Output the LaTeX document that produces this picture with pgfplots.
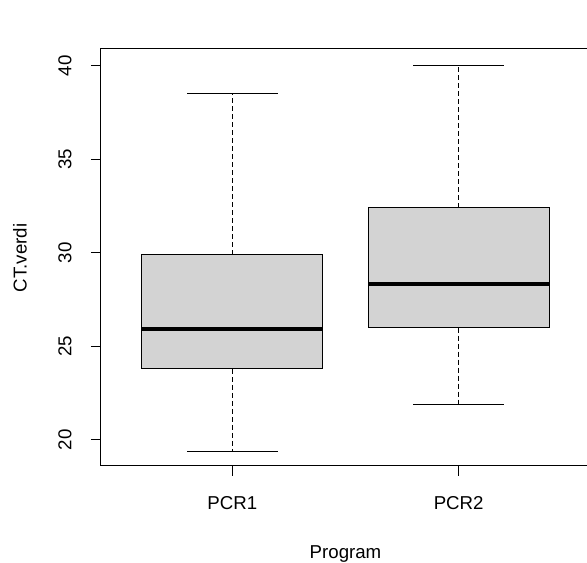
\documentclass[border=0pt]{standalone}
\usepackage{pgfplots}
\pgfplotsset{compat=1.18}
\usepgfplotslibrary{statistics}
\usepackage{fontspec}
\setmainfont{Liberation Sans}
\definecolor{boxfill}{RGB}{211,211,211}
\begin{document}
\begin{tikzpicture}
\useasboundingbox (-75.75pt,-72.75pt) rectangle (364.5pt,349.5pt);
\begin{axis}[
  at={(0,0)}, anchor=south west,
  scale only axis, width=366.75pt, height=312.75pt,
  xmin=0.42, xmax=2.58, ymin=18.6, ymax=40.9,
  axis line style={line width=0.75pt, black},
  tick style={line width=0.75pt, black},
  tick align=outside, major tick length=7.5pt,
  xtick={1,2}, xticklabels={PCR1,PCR2},
  ytick={20,25,30,35,40},
  xtick pos=bottom, ytick pos=left,
  font=\fontsize{14}{17}\selectfont,
  tick label style={font=\fontsize{14}{17}\selectfont},
  /pgf/number format/assume math mode=true,
  yticklabel style={rotate=90, anchor=base, yshift=14.65pt},
  xticklabel style={anchor=base, yshift=-25.5pt},
  xlabel={Program}, ylabel={CT.verdi},
  xlabel style={at={(axis description cs:0.5,-0.211)}, anchor=center},
  ylabel style={at={(axis description cs:-0.1656,0.4988)}, anchor=center, rotate=0},
  boxplot/draw direction=y,
  boxplot/box extend=0.8,
  boxplot/whisker extend=0.4,
  boxplot/every box/.style={draw=black, fill=boxfill, line width=0.75pt},
  boxplot/every median/.style={draw=black, line width=3pt},
  boxplot/draw/lower whisker/.code={
    \draw[black, line width=0.75pt, dash pattern=on 3.75pt off 2.25pt]
      (boxplot box cs:\pgfplotsboxplotvalue{lower quartile},0.5) --
      (boxplot box cs:\pgfplotsboxplotvalue{lower whisker},0.5);
    \draw[black, line width=0.75pt]
      (boxplot whisker cs:\pgfplotsboxplotvalue{lower whisker},0) --
      (boxplot whisker cs:\pgfplotsboxplotvalue{lower whisker},1);
  },
  boxplot/draw/upper whisker/.code={
    \draw[black, line width=0.75pt, dash pattern=on 3.75pt off 2.25pt]
      (boxplot box cs:\pgfplotsboxplotvalue{upper quartile},0.5) --
      (boxplot box cs:\pgfplotsboxplotvalue{upper whisker},0.5);
    \draw[black, line width=0.75pt]
      (boxplot whisker cs:\pgfplotsboxplotvalue{upper whisker},0) --
      (boxplot whisker cs:\pgfplotsboxplotvalue{upper whisker},1);
  },
]
\addplot+[black, solid, mark=none, boxplot prepared={draw position=1,
  lower whisker=19.4, lower quartile=23.8, median=25.9,
  upper quartile=29.9, upper whisker=38.5}] coordinates {};
\addplot+[black, solid, mark=none, boxplot prepared={draw position=2,
  lower whisker=21.9, lower quartile=26.0, median=28.35,
  upper quartile=32.4, upper whisker=40.0}] coordinates {};
\end{axis}
\end{tikzpicture}
\end{document}
